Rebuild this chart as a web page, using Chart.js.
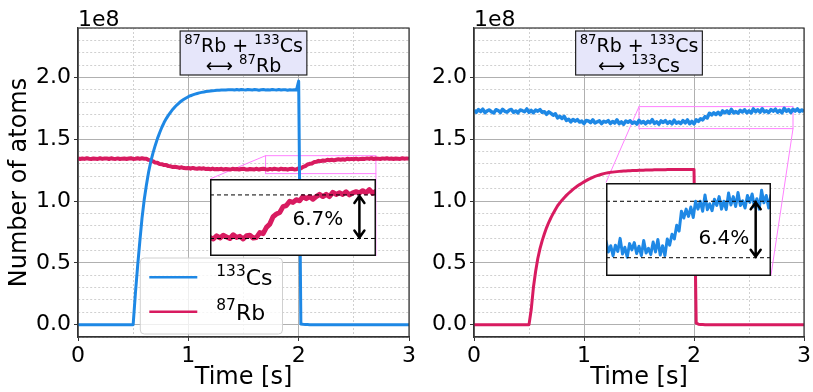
<!DOCTYPE html>
<html>
<head>
<meta charset="utf-8">
<script src="https://cdn.jsdelivr.net/npm/chart.js@4.4.1/dist/chart.umd.min.js"></script>
<style>
  html, body { margin: 0; padding: 0; background: #fff; }
  #wrap { position: relative; width: 813px; height: 392px; overflow: hidden; background: #fff; }
  canvas { position: absolute; }
</style>
</head>
<body>
<div id="wrap">
  <canvas id="mainLeft" width="420" height="392" style="left:0px;top:0px"></canvas>
  <canvas id="mainRight" width="393" height="392" style="left:420px;top:0px"></canvas>
  <canvas id="insetLeft"></canvas>
  <canvas id="insetRight"></canvas>
</div>
<script>
// sample times [s]
const timeS = [
  0, 0.02, 0.04, 0.06, 0.08, 0.1, 0.12, 0.14, 0.16, 0.18,
  0.2, 0.22, 0.24, 0.26, 0.28, 0.3, 0.32, 0.34, 0.36, 0.38,
  0.4, 0.42, 0.44, 0.46, 0.48, 0.5, 0.52, 0.54, 0.56, 0.58,
  0.6, 0.62, 0.64, 0.66, 0.68, 0.7, 0.72, 0.74, 0.76, 0.78,
  0.8, 0.82, 0.84, 0.86, 0.88, 0.9, 0.92, 0.94, 0.96, 0.98,
  1, 1.02, 1.04, 1.06, 1.08, 1.1, 1.12, 1.14, 1.16, 1.18,
  1.2, 1.22, 1.24, 1.26, 1.28, 1.3, 1.32, 1.34, 1.36, 1.38,
  1.4, 1.42, 1.44, 1.46, 1.48, 1.5, 1.52, 1.54, 1.56, 1.58,
  1.6, 1.62, 1.64, 1.66, 1.68, 1.7, 1.72, 1.74, 1.76, 1.78,
  1.8, 1.82, 1.84, 1.86, 1.88, 1.9, 1.92, 1.94, 1.96, 1.98,
  2, 2.02, 2.04, 2.06, 2.08, 2.1, 2.12, 2.14, 2.16, 2.18,
  2.2, 2.22, 2.24, 2.26, 2.28, 2.3, 2.32, 2.34, 2.36, 2.38,
  2.4, 2.42, 2.44, 2.46, 2.48, 2.5, 2.52, 2.54, 2.56, 2.58,
  2.6, 2.62, 2.64, 2.66, 2.68, 2.7, 2.72, 2.74, 2.76, 2.78,
  2.8, 2.82, 2.84, 2.86, 2.88, 2.9, 2.92, 2.94, 2.96, 2.98,
  3
];

// atom numbers in units of 1e8 -- left panel (Rb + Cs <-> Rb)
const csLeft = [
  0, 0, 0, 0, 0, 0, 0, 0, 0, 0,
  0, 0, 0, 0, 0, 0, 0, 0, 0, 0,
  0, 0, 0, 0, 0, 0, 0.25, 0.47, 0.67, 0.86,
  1.01, 1.13, 1.235, 1.32, 1.39, 1.45, 1.505, 1.553, 1.597, 1.635,
  1.667, 1.695, 1.72, 1.743, 1.763, 1.781, 1.797, 1.811, 1.823, 1.834,
  1.844, 1.852, 1.859, 1.865, 1.87, 1.875, 1.879, 1.882, 1.886, 1.888,
  1.891, 1.893, 1.894, 1.896, 1.897, 1.898, 1.899, 1.899, 1.9, 1.9,
  1.901, 1.898, 1.902, 1.899, 1.903, 1.9, 1.898, 1.902, 1.901, 1.899,
  1.902, 1.9, 1.897, 1.901, 1.903, 1.899, 1.901, 1.898, 1.902, 1.9,
  1.899, 1.902, 1.898, 1.901, 1.9, 1.897, 1.901, 1.899, 1.9, 1.898,
  1.97, 0.006, 0.003, 0.002, 0.001, 0, 0, 0, 0, 0,
  0, 0, 0, 0, 0, 0, 0, 0, 0, 0,
  0, 0, 0, 0, 0, 0, 0, 0, 0, 0,
  0, 0, 0, 0, 0, 0, 0, 0, 0, 0,
  0, 0, 0, 0, 0, 0, 0, 0, 0, 0,
  0
];
const rbLeft = [
  1.345, 1.340, 1.344, 1.341, 1.346, 1.342, 1.340, 1.345, 1.343, 1.341,
  1.346, 1.341, 1.344, 1.345, 1.340, 1.346, 1.342, 1.341, 1.345, 1.340,
  1.343, 1.345, 1.340, 1.344, 1.346, 1.341, 1.342, 1.346, 1.341, 1.346,
  1.342, 1.343, 1.333, 1.329, 1.322, 1.311, 1.310, 1.299, 1.298, 1.291,
  1.291, 1.283, 1.281, 1.275, 1.277, 1.274, 1.268, 1.273, 1.267, 1.265,
  1.268, 1.262, 1.268, 1.263, 1.261, 1.265, 1.262, 1.265, 1.259, 1.262,
  1.257, 1.263, 1.257, 1.260, 1.258, 1.261, 1.255, 1.260, 1.258, 1.255,
  1.261, 1.257, 1.260, 1.255, 1.259, 1.261, 1.256, 1.255, 1.260, 1.258,
  1.256, 1.261, 1.255, 1.259, 1.262, 1.257, 1.254, 1.260, 1.256, 1.261,
  1.258, 1.255, 1.262, 1.257, 1.259, 1.254, 1.260, 1.261, 1.256, 1.257,
  1.266, 1.264, 1.276, 1.282, 1.296, 1.301, 1.304, 1.315, 1.317, 1.325,
  1.323, 1.328, 1.326, 1.334, 1.330, 1.334, 1.329, 1.334, 1.338, 1.334,
  1.338, 1.334, 1.342, 1.338, 1.341, 1.338, 1.343, 1.337, 1.341, 1.343,
  1.341, 1.345, 1.341, 1.347, 1.340, 1.344, 1.343, 1.340, 1.345, 1.342,
  1.346, 1.341, 1.344, 1.340, 1.345, 1.343, 1.341, 1.346, 1.342, 1.345,
  1.342
];

// right panel (Rb + Cs <-> Cs)
const csRight = [
  1.734, 1.718, 1.740, 1.724, 1.743, 1.715, 1.730, 1.737, 1.721, 1.713,
  1.739, 1.732, 1.716, 1.742, 1.726, 1.719, 1.735, 1.741, 1.717, 1.729,
  1.714, 1.737, 1.731, 1.722, 1.745, 1.718, 1.733, 1.715, 1.736, 1.727,
  1.740, 1.718, 1.723, 1.702, 1.722, 1.709, 1.694, 1.706, 1.673, 1.685,
  1.669, 1.685, 1.653, 1.662, 1.641, 1.660, 1.646, 1.659, 1.639, 1.647,
  1.627, 1.652, 1.648, 1.634, 1.657, 1.631, 1.641, 1.649, 1.627, 1.645,
  1.638, 1.651, 1.627, 1.644, 1.631, 1.657, 1.626, 1.640, 1.622, 1.647,
  1.637, 1.649, 1.629, 1.640, 1.623, 1.653, 1.632, 1.644, 1.625, 1.645,
  1.633, 1.658, 1.628, 1.641, 1.622, 1.648, 1.636, 1.650, 1.629, 1.643,
  1.625, 1.654, 1.630, 1.639, 1.627, 1.651, 1.632, 1.656, 1.626, 1.644,
  1.625, 1.657, 1.645, 1.666, 1.657, 1.683, 1.672, 1.710, 1.697, 1.714,
  1.700, 1.718, 1.698, 1.729, 1.714, 1.729, 1.710, 1.741, 1.713, 1.724,
  1.711, 1.733, 1.721, 1.738, 1.714, 1.729, 1.713, 1.745, 1.722, 1.738,
  1.719, 1.746, 1.721, 1.730, 1.716, 1.740, 1.727, 1.743, 1.718, 1.734,
  1.714, 1.750, 1.726, 1.740, 1.716, 1.742, 1.728, 1.745, 1.723, 1.737,
  1.725
];
const rbRight = [
  0, 0, 0, 0, 0, 0, 0, 0, 0, 0,
  0, 0, 0, 0, 0, 0, 0, 0, 0, 0,
  0, 0, 0, 0, 0, 0, 0.12, 0.3, 0.43, 0.535,
  0.615, 0.68, 0.735, 0.785, 0.828, 0.866, 0.9, 0.932, 0.962, 0.985,
  1.007, 1.027, 1.046, 1.063, 1.079, 1.094, 1.108, 1.121, 1.133, 1.144,
  1.155, 1.165, 1.175, 1.184, 1.192, 1.199, 1.205, 1.211, 1.217, 1.222,
  1.226, 1.229, 1.232, 1.234, 1.236, 1.238, 1.24, 1.242, 1.243, 1.244,
  1.245, 1.246, 1.247, 1.248, 1.248, 1.249, 1.25, 1.25, 1.251, 1.251,
  1.252, 1.252, 1.253, 1.253, 1.253, 1.254, 1.254, 1.254, 1.255, 1.255,
  1.255, 1.255, 1.256, 1.256, 1.256, 1.256, 1.256, 1.256, 1.256, 1.256,
  1.256, 0.012, 0.004, 0.002, 0.001, 0, 0, 0, 0, 0,
  0, 0, 0, 0, 0, 0, 0, 0, 0, 0,
  0, 0, 0, 0, 0, 0, 0, 0, 0, 0,
  0, 0, 0, 0, 0, 0, 0, 0, 0, 0,
  0, 0, 0, 0, 0, 0, 0, 0, 0, 0,
  0
];

const seriesNames = ['¹³³Cs', '⁸⁷Rb'];
const panelTitles = [['⁸⁷Rb + ¹³³Cs', '⟷ ⁸⁷Rb'], ['⁸⁷Rb + ¹³³Cs', '⟷ ¹³³Cs']];

// zoomed regions [t0, t1], [n0, n1] and the step marked inside them
const zoomLeft = { t: [1.7, 2.7], n: [1.222, 1.367] };
const zoomRight = { t: [1.5, 2.9], n: [1.586, 1.764] };
const stepLeft = { low: 1.255, high: 1.337, label: '6.7%' };
const stepRight = { low: 1.621, high: 1.729, label: '6.4%' };

const FONT = 'DejaVu Sans';
const BLUE = '#1E88E5';
const RED = '#D81B60';
Chart.defaults.font.family = FONT;
Chart.defaults.color = '#000';

// text with unicode superscript digits drawn as real superscripts
const SUP = '⁰¹²³⁴⁵⁶⁷⁸⁹';
function runsOf(str) {
  const runs = [];
  for (const ch of str) {
    const k = SUP.indexOf(ch);
    const sup = k >= 0;
    const c = sup ? String(k) : ch;
    const last = runs[runs.length - 1];
    if (last && last.sup === sup) last.t += c;
    else runs.push({ t: c, sup });
  }
  return runs;
}
function richWidth(ctx, str, size) {
  let w = 0;
  for (const r of runsOf(str)) {
    ctx.font = (r.sup ? size * 0.7 : size) + 'px "' + FONT + '"';
    w += ctx.measureText(r.t).width;
  }
  return w;
}
function drawRich(ctx, str, x, base, size) {
  ctx.textAlign = 'left';
  ctx.textBaseline = 'alphabetic';
  for (const r of runsOf(str)) {
    ctx.font = (r.sup ? size * 0.7 : size) + 'px "' + FONT + '"';
    ctx.fillText(r.t, x, r.sup ? base - size * 0.42 : base);
    x += ctx.measureText(r.t).width;
  }
}

const isMul = (v, step) => Math.abs(v / step - Math.round(v / step)) < 1e-6;
const pts = (arr) => timeS.map((t, i) => ({ x: t, y: arr[i] }));

function xAxis() {
  return {
    type: 'linear', min: 0, max: 3,
    afterFit: (s) => { s.height = 55; },
    ticks: {
      stepSize: 0.5, autoSkip: false, maxRotation: 0, padding: 2,
      font: { size: 22 }, color: '#000',
      callback: (v) => isMul(v, 1) ? String(Math.round(v)) : ''
    },
    grid: {
      color: (c) => c.tick && isMul(c.tick.value, 1) ? '#b0b0b0' : '#c4c4c4',
      lineWidth: (c) => c.tick && isMul(c.tick.value, 1) ? 1 : 0.8,
      tickLength: 4,
      tickColor: (c) => c.tick && isMul(c.tick.value, 1) ? '#333' : 'rgba(0,0,0,0)'
    },
    border: { color: '#333', width: 1.2, dash: (c) => c.tick && !isMul(c.tick.value, 1) ? [2, 2] : [] },
    title: { display: true, text: 'Time [s]', font: { size: 24 }, color: '#000', padding: { top: 0, bottom: 0 } }
  };
}
function yAxis(width, showTitle) {
  return {
    type: 'linear', min: -0.1, max: 2.4,
    afterFit: (s) => { s.width = width; },
    ticks: {
      stepSize: 0.1, maxTicksLimit: 100, autoSkip: false, padding: 3,
      font: { size: 22 }, color: '#000',
      callback: (v) => isMul(v, 0.5) ? v.toFixed(1) : ''
    },
    grid: {
      color: (c) => c.tick && isMul(c.tick.value, 0.5) ? '#b0b0b0' : '#c4c4c4',
      lineWidth: (c) => c.tick && isMul(c.tick.value, 0.5) ? 1 : 0.8,
      tickLength: 4,
      tickColor: (c) => c.tick && isMul(c.tick.value, 0.5) ? '#333' : 'rgba(0,0,0,0)'
    },
    border: { color: '#333', width: 1.2, dash: (c) => c.tick && !isMul(c.tick.value, 0.5) ? [2, 2] : [] },
    title: { display: showTitle, text: 'Number of atoms', font: { size: 24 }, color: '#000', padding: { top: 5, bottom: 0 } }
  };
}

// inset bounds as fractions of the plot area [x0, y0 (from bottom), w, h]
function insetBox(a, b) {
  const w = a.right - a.left, h = a.bottom - a.top;
  return {
    l: a.left + b[0] * w, r: a.left + (b[0] + b[2]) * w,
    t: a.bottom - (b[1] + b[3]) * h, b: a.bottom - b[1] * h
  };
}

function panelPlugin(cfg) {
  return {
    id: 'panelDecor',
    beforeDatasetsDraw(chart) {
      const { ctx, chartArea: a, scales: { x, y } } = chart;
      const box = insetBox(a, cfg.bounds);
      const l = x.getPixelForValue(cfg.zoom.t[0]), r = x.getPixelForValue(cfg.zoom.t[1]);
      const t = y.getPixelForValue(cfg.zoom.n[1]), b = y.getPixelForValue(cfg.zoom.n[0]);
      ctx.save();
      ctx.strokeStyle = '#ff80ff';
      ctx.lineWidth = 1;
      ctx.strokeRect(l, t, r - l, b - t);
      ctx.beginPath();
      ctx.moveTo(l, t); ctx.lineTo(box.l, box.t);
      ctx.moveTo(r, b); ctx.lineTo(box.r, box.b);
      ctx.stroke();
      ctx.restore();
    },
    afterDraw(chart) {
      const { ctx, chartArea: a } = chart;
      ctx.save();
      // frame
      ctx.strokeStyle = '#333';
      ctx.lineWidth = 1.2;
      ctx.strokeRect(a.left, a.top, a.right - a.left, a.bottom - a.top);
      // offset text
      ctx.fillStyle = '#000';
      ctx.font = '22px "' + FONT + '"';
      ctx.textAlign = 'left';
      ctx.textBaseline = 'alphabetic';
      ctx.fillText('1e8', a.left, a.top - 2);
      // title box
      const fs = 19;
      const w1 = richWidth(ctx, cfg.title[0], fs), w2 = richWidth(ctx, cfg.title[1], fs);
      const bw = Math.max(w1, w2) + 8, bh = 44;
      const cx = (a.left + a.right) / 2, bt = a.top + 3;
      ctx.fillStyle = '#e6e6fa';
      ctx.fillRect(cx - bw / 2, bt, bw, bh);
      ctx.strokeStyle = '#222';
      ctx.lineWidth = 1.2;
      ctx.strokeRect(cx - bw / 2, bt, bw, bh);
      ctx.fillStyle = '#000';
      drawRich(ctx, cfg.title[0], cx - w1 / 2, bt + 21, fs);
      drawRich(ctx, cfg.title[1], cx - w2 / 2, bt + 41, fs);
      // legend
      if (cfg.legend) {
        const ls = 22;
        const ds = chart.data.datasets;
        const tw = Math.max(...ds.map(d => richWidth(ctx, d.label, ls)));
        const lw = 9 + 48 + 19 + tw + 10, lh = 76;
        const lx = a.left + 0.403 * (a.right - a.left) - lw / 2;
        const ly = a.bottom - 3 - lh;
        ctx.beginPath();
        ctx.roundRect(lx, ly, lw, lh, 4);
        ctx.fillStyle = 'rgba(255,255,255,0.8)';
        ctx.fill();
        ctx.strokeStyle = '#d0d0d0';
        ctx.lineWidth = 1;
        ctx.stroke();
        ds.forEach((d, i) => {
          const ry = ly + 19.3 + i * 34.4;
          ctx.strokeStyle = d.borderColor;
          ctx.lineWidth = 2.5;
          ctx.beginPath();
          ctx.moveTo(lx + 9, ry); ctx.lineTo(lx + 57, ry);
          ctx.stroke();
          ctx.fillStyle = '#000';
          drawRich(ctx, d.label, lx + 76, ry + 0.365 * ls, ls);
        });
      }
      ctx.restore();
    }
  };
}

function insetPlugin(step, arrowT, labelAt) {
  return {
    id: 'insetDecor',
    beforeDraw(chart) {
      const { ctx, width, height } = chart;
      ctx.save();
      ctx.fillStyle = '#fff';
      ctx.fillRect(0, 0, width, height);
      ctx.restore();
    },
    afterDatasetsDraw(chart) {
      const { ctx, width, scales: { x, y } } = chart;
      const yl = y.getPixelForValue(step.low), yh = y.getPixelForValue(step.high);
      ctx.save();
      ctx.strokeStyle = '#000';
      ctx.lineWidth = 1;
      ctx.setLineDash([4, 3]);
      ctx.beginPath();
      ctx.moveTo(0, yl); ctx.lineTo(width, yl);
      ctx.moveTo(0, yh); ctx.lineTo(width, yh);
      ctx.stroke();
      ctx.setLineDash([]);
      // double arrow
      const ax = x.getPixelForValue(arrowT);
      ctx.lineWidth = 2.5;
      ctx.lineCap = 'round';
      ctx.lineJoin = 'miter';
      ctx.beginPath();
      ctx.moveTo(ax, yh + 1); ctx.lineTo(ax, yl - 1);
      ctx.moveTo(ax - 5, yh + 8); ctx.lineTo(ax, yh + 1); ctx.lineTo(ax + 5, yh + 8);
      ctx.moveTo(ax - 5, yl - 8); ctx.lineTo(ax, yl - 1); ctx.lineTo(ax + 5, yl - 8);
      ctx.stroke();
      ctx.fillStyle = '#000';
      ctx.font = '20px "' + FONT + '"';
      ctx.textAlign = 'center';
      ctx.textBaseline = 'middle';
      ctx.fillText(step.label, x.getPixelForValue(labelAt[0]), y.getPixelForValue(labelAt[1]));
      ctx.restore();
    },
    afterDraw(chart) {
      const { ctx, width, height } = chart;
      ctx.save();
      ctx.strokeStyle = '#111';
      ctx.lineWidth = 1.5;
      ctx.strokeRect(0.75, 0.75, width - 1.5, height - 1.5);
      ctx.restore();
    }
  };
}

const baseOpts = {
  responsive: false, animation: false, events: [],
  plugins: { legend: { display: false }, tooltip: { enabled: false } },
  elements: { point: { radius: 0 }, line: { tension: 0, borderJoinStyle: 'round' } }
};

function mainChart(id, datasets, yWidth, showYTitle, padRight, cfg) {
  return new Chart(document.getElementById(id), {
    type: 'line',
    data: { datasets },
    options: Object.assign({}, baseOpts, {
      layout: { padding: { left: 0, right: padRight, top: 28, bottom: 0 } },
      scales: { x: xAxis(), y: yAxis(yWidth, showYTitle) }
    }),
    plugins: [panelPlugin(cfg)]
  });
}

function insetChart(id, main, bounds, zoom, data, color, width, step, arrowT, labelAt) {
  const box = insetBox(main.chartArea, bounds);
  const cv = document.getElementById(id);
  cv.width = Math.round(box.r - box.l);
  cv.height = Math.round(box.b - box.t);
  cv.style.left = (main.canvas.offsetLeft + Math.round(box.l)) + 'px';
  cv.style.top = (main.canvas.offsetTop + Math.round(box.t)) + 'px';
  return new Chart(cv, {
    type: 'line',
    data: { datasets: [{ data: pts(data), borderColor: color, borderWidth: width }] },
    options: Object.assign({}, baseOpts, {
      layout: { padding: 0 },
      scales: {
        x: { type: 'linear', display: false, min: zoom.t[0], max: zoom.t[1] },
        y: { type: 'linear', display: false, min: zoom.n[0], max: zoom.n[1] }
      }
    }),
    plugins: [insetPlugin(step, arrowT, labelAt)]
  });
}

const boundsLeft = [0.4, 0.262, 0.5, 0.25];
const boundsRight = [0.4, 0.2, 0.5, 0.3];

const left = mainChart('mainLeft', [
  { label: seriesNames[0], data: pts(csLeft), borderColor: BLUE, borderWidth: 3 },
  { label: seriesNames[1], data: pts(rbLeft), borderColor: RED, borderWidth: 4 }
], 78, true, 11, { title: panelTitles[0], zoom: zoomLeft, bounds: boundsLeft, legend: true });

const right = mainChart('mainRight', [
  { label: seriesNames[0], data: pts(csRight), borderColor: BLUE, borderWidth: 3.5 },
  { label: seriesNames[1], data: pts(rbRight), borderColor: RED, borderWidth: 3 }
], 54, false, 8, { title: panelTitles[1], zoom: zoomRight, bounds: boundsRight, legend: false });

insetChart('insetLeft', left, boundsLeft, zoomLeft, rbLeft, RED, 5, stepLeft, 2.6, [2.35, 1.29]);
insetChart('insetRight', right, boundsRight, zoomRight, csRight, BLUE, 3, stepRight, 2.77, [2.5, 1.657]);
</script>
</body>
</html>
